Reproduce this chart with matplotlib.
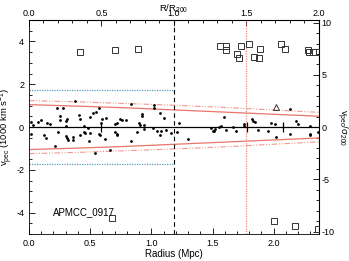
import matplotlib
matplotlib.use('Agg')
import matplotlib.pyplot as plt
from matplotlib.ticker import MultipleLocator, AutoMinorLocator

plt.rcParams['font.family'] = ['Liberation Sans', 'DejaVu Sans']
plt.rcParams['mathtext.fontset'] = 'custom'
plt.rcParams['mathtext.rm'] = 'Liberation Sans'
plt.rcParams['mathtext.it'] = 'Liberation Sans'

R200 = 1.185        # Mpc
SIGMA200 = 0.488    # 1000 km/s

# members (filled dots): radius in Mpc, v_pec in 1000 km/s
mem_r = [0.02, 0.03, 0.02, 0.07, 0.10, 0.12, 0.14, 0.15, 0.17, 0.21,
         0.23, 0.24, 0.25, 0.25, 0.28, 0.30, 0.30, 0.30, 0.31, 0.31,
         0.32, 0.36, 0.36, 0.38, 0.41, 0.42, 0.42, 0.45, 0.46, 0.49,
         0.50, 0.50, 0.525, 0.54, 0.55, 0.57, 0.57, 0.58, 0.59, 0.60,
         0.62, 0.63, 0.66, 0.70, 0.70, 0.72, 0.72, 0.72, 0.74, 0.76,
         0.79, 0.83, 0.83, 0.88, 0.90, 0.91, 0.92, 0.92, 0.94, 0.94,
         1.01, 1.02, 1.02, 1.05, 1.07, 1.07, 1.08, 1.10, 1.12, 1.16,
         1.23, 1.21, 1.30, 1.49, 1.50, 1.51, 1.52, 1.55, 1.57, 1.59,
         1.61, 1.67, 1.69, 1.76, 1.76, 1.82, 1.83, 1.85, 1.87, 1.95,
         1.98, 2.01, 2.02, 2.13, 2.13, 2.18, 2.20, 2.30, 2.30, 2.30,
         2.36, 0.45, 0.48]
mem_v = [0.26, 0.10, -0.34, 0.26, 0.34, -0.39, -0.53, 0.19, 0.15, -0.86,
         0.89, -0.21, 0.50, 0.34, 0.89, 0.29, 0.05, -0.40, -0.51, 0.38,
         -0.59, -0.47, -0.59, 1.23, 0.57, 0.39, -0.37, -0.21, -0.28, -0.63,
         0.47, -0.28, 0.68, -1.19, 0.72, 0.87, -0.31, -0.36, 0.19, 0.37,
         -0.56, 0.42, -1.09, 0.15, -0.25, 0.19, -0.31, -0.37, 0.37, 0.31,
         0.34, 1.09, -0.67, -0.25, 0.19, 0.08, 0.61, 0.51, 0.12, -0.07,
         -0.05, 1.01, 0.88, -0.17, 0.68, -0.36, -0.17, 0.43, -0.14, -0.28,
         0.17, -0.21, -0.57, -0.06, -0.20, -0.18, -0.09, 0.00, 0.03, 0.46,
         -0.14, 0.02, -0.18, 0.15, 0.05, 0.38, 0.30, 0.23, -0.15, -0.18,
         0.19, 0.16, -0.45, 0.86, -0.30, 0.29, 0.14, 0.04, -0.30, -0.36,
         -0.25, 0.05, -0.05]

# interlopers (open squares)
int_r = [0.42, 0.70, 0.89, 1.56, 1.61, 1.61, 1.70, 1.72, 1.73, 1.80,
         1.84, 1.88, 1.89, 2.06, 2.09, 2.28, 2.29, 2.32, 2.37,
         0.675, 2.00, 2.17, 2.36]
int_v = [3.50, 3.58, 3.67, 3.77, 3.80, 3.61, 3.41, 3.22, 3.80, 3.86,
         3.27, 3.25, 3.64, 3.88, 3.64, 3.61, 3.52, 3.52, 3.52,
         -4.25, -4.38, -4.60, -4.75]

# open triangle
tri_r = [2.02]
tri_v = [0.96]

# envelope curves
env_r = [0.0, 0.4, 0.8, 1.2, 1.6, 2.0, 2.4]
caustic = [1.05, 0.98, 0.90, 0.80, 0.70, 0.60, 0.50]
envelope = [1.24, 1.18, 1.10, 1.02, 0.92, 0.80, 0.68]
sigma_band = 1.72

# short vertical marks on the zero line
mark_r = [0.59, 1.785, 2.08]
mark_h = 0.22

fig = plt.figure(figsize=(3.49, 2.61), dpi=100)
ax = fig.add_axes([0.083, 0.103, 0.831, 0.820])

red = '#e8756a'
dashdot3 = (0, (5, 1.5, 1, 1.5, 1, 1.5))
ax.plot(env_r, caustic, color=red, lw=0.9, zorder=2)
ax.plot(env_r, [-v for v in caustic], color=red, lw=0.9, zorder=2)
ax.plot(env_r, envelope, color='#f09a8e', lw=0.8, ls=dashdot3, zorder=2)
ax.plot(env_r, [-v for v in envelope], color='#f09a8e', lw=0.8, ls=dashdot3, zorder=2)
ax.plot([0, R200], [sigma_band, sigma_band], color='#5a9fc0', lw=0.9, ls=(0, (1, 1)))
ax.plot([0, R200], [-sigma_band, -sigma_band], color='#5a9fc0', lw=0.9, ls=(0, (1, 1)))

ax.axhline(0, color='black', lw=0.9, zorder=1)
ax.vlines(mark_r, -mark_h, mark_h, color='black', lw=0.9)
ax.axvline(R200, color='black', lw=0.8, ls=(0, (4, 3)))
ax.axvline(1.5 * R200, color='#f08a80', lw=0.9, ls=(0, (1, 1)))

ax.plot(mem_r, mem_v, 'o', color='black', ms=2.0, mew=0, zorder=3)
ax.plot(int_r, int_v, 's', mfc='none', mec='#333333', ms=4.8, mew=0.7, zorder=3)
ax.plot(tri_r, tri_v, '^', mfc='none', mec='#333333', ms=4.8, mew=0.7, zorder=3)

ax.text(0.2, -3.95, 'APMCC_0917', fontsize=7, va='center', ha='left')

ax.set_xlim(0, 2.37)
ax.set_ylim(-5, 5)
ax.xaxis.set_major_locator(MultipleLocator(0.5))
ax.xaxis.set_minor_locator(AutoMinorLocator(5))
ax.yaxis.set_major_locator(MultipleLocator(2))
ax.yaxis.set_minor_locator(AutoMinorLocator(4))
ax.xaxis.set_major_formatter(plt.FuncFormatter(lambda v, p: f'{v:.1f}'))
ax.yaxis.set_major_formatter(plt.FuncFormatter(lambda v, p: f'{v:.0f}'))
ax.tick_params(which='both', direction='in', labelsize=6.5, width=0.6)
ax.tick_params(which='major', length=4)
ax.tick_params(which='minor', length=2)
ax.set_xlabel('Radius (Mpc)', fontsize=7, labelpad=1)
ax.set_ylabel('v$_{pec}$ (1000 km s$^{-1}$)', fontsize=6.8, labelpad=1)
for s in ax.spines.values():
    s.set_linewidth(0.6)

top = ax.secondary_xaxis('top', functions=(lambda x: x / R200, lambda x: x * R200))
top.xaxis.set_major_locator(MultipleLocator(0.5))
top.xaxis.set_minor_locator(AutoMinorLocator(5))
top.xaxis.set_major_formatter(plt.FuncFormatter(lambda v, p: f'{v:.1f}'))
top.tick_params(which='both', direction='in', labelsize=6.5, width=0.6, pad=1.5)
top.tick_params(which='major', length=4)
top.tick_params(which='minor', length=2)
top.set_xlabel('R/R$_{200}$', fontsize=6.8, labelpad=-1.5)

right = ax.secondary_yaxis('right', functions=(lambda y: y / SIGMA200, lambda y: y * SIGMA200))
right.yaxis.set_major_locator(MultipleLocator(5))
right.yaxis.set_minor_locator(AutoMinorLocator(5))
right.yaxis.set_major_formatter(plt.FuncFormatter(lambda v, p: f'{v:.0f}'))
right.tick_params(which='both', direction='in', labelsize=6.5, width=0.6, pad=2)
right.tick_params(which='major', length=4)
right.tick_params(which='minor', length=2)
right.set_ylabel('v$_{pec}$/$\\sigma_{200}$', fontsize=6.8, rotation=270, labelpad=10)

fig.savefig('out.png', dpi=100)
